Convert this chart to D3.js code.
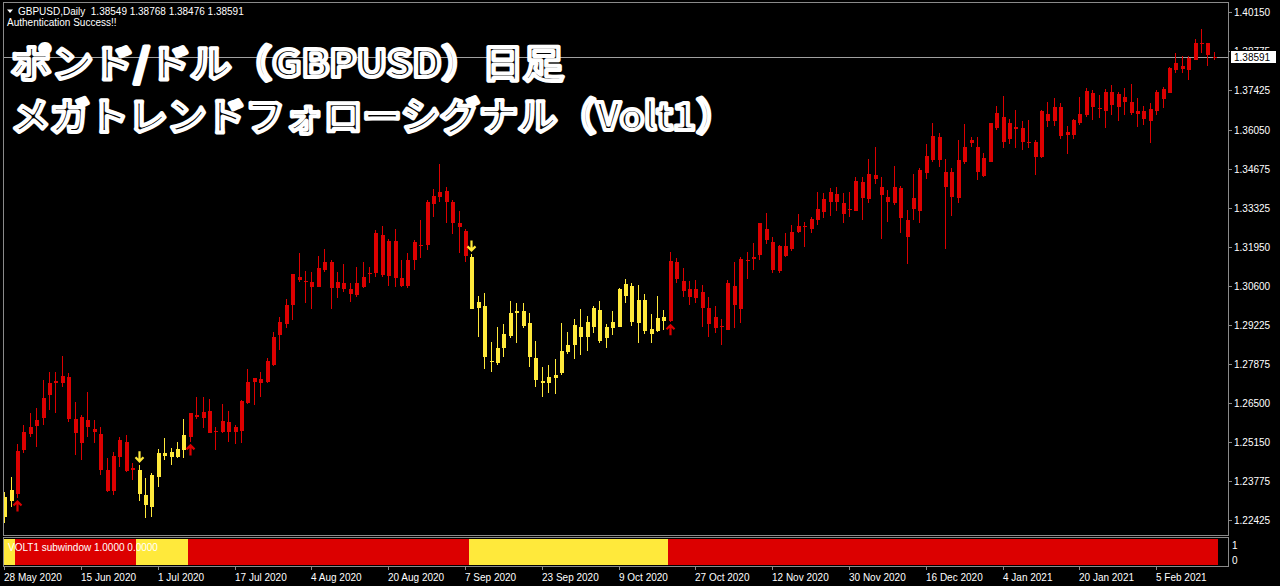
<!DOCTYPE html>
<html><head><meta charset="utf-8">
<script src="https://cdn.jsdelivr.net/npm/d3@7"></script>
<style>html,body{margin:0;padding:0;background:#000;overflow:hidden}svg{display:block}</style>
</head><body>
<svg id="c" width="1280" height="586"></svg>
<script>
// ---- data (GBPUSD daily, 28 May 2020 .. Feb 2021) ----
const open = [1.2253,1.2310,1.2333,1.2487,1.2543,1.2571,1.2600,1.2679,1.2720,1.2720,
1.2743,1.2595,1.2510,1.2592,1.2561,1.2543,1.2417,1.2345,1.2461,1.2516,
1.2417,1.2417,1.2330,1.2289,1.2392,1.2475,1.2461,1.2463,1.2487,1.2531,
1.2609,1.2600,1.2623,1.2550,1.2551,1.2586,1.2551,1.2553,1.2650,1.2725,
1.2734,1.2725,1.2783,1.2888,1.2927,1.2993,1.3092,1.3077,1.3072,1.3057,
1.3115,1.3142,1.3051,1.3069,1.3049,1.3028,1.3057,1.3101,1.3103,1.3237,
1.3094,1.3217,1.3088,1.3059,1.3148,1.3203,1.3202,1.3345,1.3371,1.3392,
1.3351,1.3278,1.3252,1.3161,1.2983,1.2990,1.2799,1.2789,1.2842,1.2885,
1.2964,1.2972,1.2929,1.2807,1.2728,1.2720,1.2739,1.2754,1.2830,1.2853,
1.2917,1.2880,1.2915,1.2975,1.2877,1.2914,1.2917,1.3024,1.3060,1.2931,
1.3010,1.2908,1.2902,1.2938,1.2938,1.3142,1.3077,1.3048,1.3016,1.3039,
1.2983,1.2952,1.2915,1.2906,1.3060,1.2978,1.3150,1.3154,1.3166,1.3258,
1.3214,1.3113,1.3199,1.3187,1.3249,1.3269,1.3257,1.3290,1.3316,1.3353,
1.3379,1.3350,1.3324,1.3322,1.3423,1.3362,1.3448,1.3404,1.3371,1.3350,
1.3400,1.3290,1.3327,1.3322,1.3453,1.3497,1.3578,1.3458,1.3458,1.3365,
1.3490,1.3559,1.3543,1.3443,1.3493,1.3610,1.3650,1.3571,1.3615,1.3610,
1.3563,1.3563,1.3508,1.3659,1.3633,1.3685,1.3586,1.3586,1.3629,1.3656,
1.3734,1.3681,1.3671,1.3737,1.3685,1.3720,1.3702,1.3671,1.3668,1.3636,
1.3668,1.3711,1.3734,1.3813,1.3825,1.3811,1.3848,1.3904,1.3906,1.38549];

const high = [1.2341,1.2394,1.2508,1.2574,1.2616,1.2633,1.2731,1.2760,1.2759,1.2815,
1.2756,1.2655,1.2609,1.2690,1.2592,1.2568,1.2459,1.2481,1.2533,1.2539,
1.2440,1.2435,1.2388,1.2406,1.2489,1.2528,1.2493,1.2516,1.2594,1.2617,
1.2672,1.2671,1.2664,1.2566,1.2647,1.2623,1.2574,1.2661,1.2768,1.2739,
1.2760,1.2807,1.2900,1.2952,1.3013,1.3101,1.3173,1.3113,1.3109,1.3164,
1.3187,1.3150,1.3109,1.3136,1.3069,1.3124,1.3144,1.3124,1.3255,1.3269,
1.3222,1.3257,1.3150,1.3173,1.3220,1.3290,1.3359,1.3397,1.3485,1.3404,
1.3359,1.3322,1.3257,1.3171,1.3024,1.3036,1.2865,1.2917,1.2927,1.3008,
1.2999,1.2999,1.2966,1.2868,1.2778,1.2783,1.2803,1.2929,1.2900,1.2943,
1.2978,1.2954,1.2989,1.3008,1.2927,1.2973,1.3051,1.3083,1.3069,1.3063,
1.3031,1.2961,1.3024,1.2975,1.3179,1.3156,1.3123,1.3078,1.3080,1.3063,
1.3020,1.2989,1.2943,1.3080,1.3141,1.3161,1.3179,1.3210,1.3280,1.3315,
1.3229,1.3202,1.3243,1.3272,1.3310,1.3284,1.3301,1.3387,1.3383,1.3400,
1.3404,1.3385,1.3388,1.3441,1.3441,1.3501,1.3543,1.3441,1.3394,1.3478,
1.3408,1.3324,1.3449,1.3470,1.3555,1.3629,1.3594,1.3501,1.3470,1.3569,
1.3625,1.3580,1.3578,1.3524,1.3629,1.3687,1.3722,1.3641,1.3673,1.3633,
1.3638,1.3569,1.3673,1.3702,1.3714,1.3697,1.3618,1.3640,1.3720,1.3749,
1.3743,1.3726,1.3746,1.3761,1.3737,1.3749,1.3764,1.3714,1.3687,1.3697,
1.3743,1.3755,1.3824,1.3871,1.3862,1.3860,1.3920,1.3955,1.3908,1.38768];

const low = [1.2232,1.2289,1.2319,1.2476,1.2532,1.2497,1.2574,1.2626,1.2616,1.2708,
1.2586,1.2469,1.2452,1.2533,1.2510,1.2400,1.2341,1.2330,1.2429,1.2411,
1.2382,1.2310,1.2248,1.2254,1.2359,1.2452,1.2435,1.2458,1.2458,1.2515,
1.2595,1.2563,1.2545,1.2487,1.2547,1.2516,1.2508,1.2512,1.2648,1.2644,
1.2671,1.2720,1.2781,1.2836,1.2912,1.2941,1.3074,1.2999,1.2978,1.3055,
1.3109,1.2977,1.3016,1.3039,1.3004,1.3022,1.3051,1.3071,1.3090,1.3092,
1.3059,1.3057,1.3055,1.3051,1.3115,1.3156,1.3185,1.3301,1.3353,1.3280,
1.3241,1.3173,1.3144,1.2977,1.2882,1.2768,1.2760,1.2783,1.2812,1.2877,
1.2861,1.2912,1.2775,1.2706,1.2673,1.2687,1.2682,1.2749,1.2822,1.2803,
1.2818,1.2833,1.2896,1.2861,1.2842,1.2888,1.2915,1.2999,1.2920,1.2861,
1.2892,1.2859,1.2900,1.2906,1.2934,1.3069,1.3020,1.2993,1.2999,1.2915,
1.2880,1.2894,1.2853,1.2904,1.2912,1.2929,1.3083,1.3115,1.3148,1.3205,
1.3103,1.3106,1.3159,1.3182,1.3245,1.3196,1.3243,1.3272,1.3295,1.3303,
1.3322,1.3280,1.3301,1.3319,1.3290,1.3350,1.3415,1.3222,1.3284,1.3342,
1.3245,1.3136,1.3290,1.3278,1.3432,1.3490,1.3473,1.3187,1.3303,1.3350,
1.3485,1.3545,1.3429,1.3439,1.3490,1.3604,1.3540,1.3555,1.3540,1.3534,
1.3540,1.3447,1.3505,1.3613,1.3618,1.3571,1.3520,1.3571,1.3621,1.3650,
1.3638,1.3645,1.3610,1.3656,1.3633,1.3656,1.3656,1.3613,1.3621,1.3559,
1.3656,1.3679,1.3732,1.3801,1.3801,1.3776,1.3846,1.3871,1.3827,1.38476];

const close = [1.2323,1.2347,1.2484,1.2550,1.2568,1.2592,1.2668,1.2722,1.2729,1.2745,
1.2595,1.2545,1.2603,1.2566,1.2551,1.2417,1.2345,1.2466,1.2522,1.2415,
1.2423,1.2333,1.2295,1.2400,1.2475,1.2466,1.2480,1.2489,1.2539,1.2615,
1.2601,1.2621,1.2547,1.2553,1.2589,1.2551,1.2568,1.2659,1.2723,1.2738,
1.2720,1.2796,1.2880,1.2932,1.2993,1.3100,1.3080,1.3072,1.3057,1.3121,
1.3144,1.3053,1.3072,1.3048,1.3031,1.3069,1.3092,1.3106,1.3245,1.3098,
1.3217,1.3088,1.3059,1.3150,1.3214,1.3199,1.3353,1.3373,1.3388,1.3351,
1.3278,1.3266,1.3164,1.2978,1.3002,1.2812,1.2794,1.2842,1.2891,1.2966,
1.2971,1.2920,1.2812,1.2731,1.2722,1.2743,1.2749,1.2832,1.2853,1.2923,
1.2882,1.2935,1.2981,1.2868,1.2917,1.2932,1.3049,1.3066,1.2935,1.3010,
1.2903,1.2892,1.2949,1.2952,1.3146,1.3083,1.3043,1.3022,1.3049,1.2981,
1.2927,1.2912,1.2920,1.3069,1.2993,1.3152,1.3146,1.3159,1.3278,1.3220,
1.3115,1.3200,1.3164,1.3249,1.3269,1.3264,1.3292,1.3327,1.3362,1.3388,
1.3351,1.3310,1.3329,1.3427,1.3365,1.3450,1.3434,1.3377,1.3353,1.3404,
1.3295,1.3229,1.3365,1.3464,1.3513,1.3583,1.3499,1.3404,1.3369,1.3499,
1.3545,1.3569,1.3455,1.3505,1.3627,1.3662,1.3563,1.3627,1.3606,1.3563,
1.3558,1.3510,1.3668,1.3636,1.3685,1.3583,1.3596,1.3638,1.3659,1.3740,
1.3685,1.3676,1.3737,1.3691,1.3729,1.3700,1.3664,1.3658,1.3641,1.3676,
1.3737,1.3746,1.3821,1.3836,1.3815,1.3856,1.3908,1.3906,1.3865,1.38591];

// Volt1 trend state per bar: 1 = up trend (red), 0 = down trend (yellow)
const trend = [0,0,1,1,1,1,1,1,1,1, 1,1,1,1,1,1,1,1,1,1, 1,0,0,0,0,0,0,0,0,1,
1,1,1,1,1,1,1,1,1,1, 1,1,1,1,1,1,1,1,1,1, 1,1,1,1,1,1,1,1,1,1, 1,1,1,1,1,1,1,1,1,1,
1,1,1,0,0,0,0,0,0,0, 0,0,0,0,0,0,0,0,0,0, 0,0,0,0,0,0,0,0,0,0, 0,0,0,0,1,1,1,1,1,1,
1,1,1,1,1,1,1,1,1,1, 1,1,1,1,1,1,1,1,1,1, 1,1,1,1,1,1,1,1,1,1, 1,1,1,1,1,1,1,1,1,1,
1,1,1,1,1,1,1,1,1,1, 1,1,1,1,1,1,1,1,1,1, 1,1,1,1,1,1,1,1,1,1, 1,1,1,1,1,1,1,1,1,1];

const buySignals = [2, 29, 104];   // red up arrows
const sellSignals = [21, 73];      // yellow down arrows

const priceTicks = [1.40150,1.38775,1.37425,1.36050,1.34675,1.33325,1.31950,1.30600,1.29225,1.27875,1.26500,1.25150,1.23775,1.22425];
const dateTickBars = [0,12,24,36,48,60,72,84,96,108,120,132,144,156,168,180];
const dateTickLabels = ["28 May 2020","15 Jun 2020","1 Jul 2020","17 Jul 2020","4 Aug 2020","20 Aug 2020","7 Sep 2020","23 Sep 2020","9 Oct 2020","27 Oct 2020","12 Nov 2020","30 Nov 2020","16 Dec 2020","4 Jan 2021","20 Jan 2021","5 Feb 2021"];
const subTicks = [1, 0];

const symbolText = "GBPUSD,Daily";
const statusText = "Authentication Success!!";
const subLabel = "VOLT1 subwindow 1.0000 0.0000";
const titleLines = ["ポンド/ドル（GBPUSD）日足", "メガトレンドフォローシグナル（Volt1）"];

// ---- drawing ----
const RED = "#dc0000", YEL = "#ffe93b", FRAME = "#8a8a8a", TXT = "#ffffff";
const FONT = "'Liberation Sans', Arial, sans-serif";
const N = open.length;
const svg = d3.select("#c");
svg.append("rect").attr("width",1280).attr("height",586).attr("fill","#000");

const P = {l:3, r:1228, t:2, b:535};
const S = {t:537, b:566};

const x = d3.scaleBand().domain(d3.range(N)).range([2, 1218]);
const cx = i => Math.round(x(i) + x.bandwidth()/2);
const y = d3.scaleLinear().domain([priceTicks[priceTicks.length-1], priceTicks[0]]).range([520, 12]);
const ys = d3.scaleLinear().domain([0, 1]).range([S.b - 1, S.t + 1.5]);
const col = i => trend[i] ? RED : YEL;

const defs = svg.append("defs");
defs.append("clipPath").attr("id","mainclip").append("rect")
  .attr("x",P.l+1).attr("y",P.t+1).attr("width",P.r-P.l-1).attr("height",P.b-P.t-1);
defs.append("clipPath").attr("id","subclip").append("rect")
  .attr("x",P.l+1).attr("y",S.t+1).attr("width",P.r-P.l-1).attr("height",S.b-S.t-1);

// current price line
const lastClose = close[N-1];
svg.append("line").attr("x1",P.l).attr("x2",P.r)
  .attr("y1",Math.round(y(lastClose))+0.5).attr("y2",Math.round(y(lastClose))+0.5)
  .attr("stroke","#a0a0a0").attr("stroke-width",1).attr("shape-rendering","crispEdges");

// candles
const g = svg.append("g").attr("clip-path","url(#mainclip)");
const idx = d3.range(N);
g.selectAll("line.wick").data(idx).join("line").attr("class","wick")
  .attr("x1",i=>cx(i)-0.5).attr("x2",i=>cx(i)-0.5)
  .attr("y1",i=>y(high[i])).attr("y2",i=>y(low[i]))
  .attr("stroke",col).attr("stroke-width",1).attr("shape-rendering","crispEdges");
g.selectAll("rect.body").data(idx).join("rect").attr("class","body")
  .attr("x",i=>cx(i)-2).attr("width",4)
  .attr("y",i=>y(Math.max(open[i],close[i])))
  .attr("height",i=>Math.max(1, Math.abs(y(open[i])-y(close[i]))))
  .attr("fill",col).attr("shape-rendering","crispEdges");

// signal arrows
g.selectAll("path.buy").data(buySignals).join("path").attr("class","buy")
  .attr("d",i=>{const c=cx(i)-0.5, t=y(low[i])+2.5; return `M${c-4},${t+5}L${c},${t+1}L${c+4},${t+5}M${c},${t+1}V${t+11}`;})
  .attr("fill","none").attr("stroke",RED).attr("stroke-width",2.2);
g.selectAll("path.sell").data(sellSignals).join("path").attr("class","sell")
  .attr("d",i=>{const c=cx(i)-0.5, b=y(high[i])-2.5; return `M${c-4},${b-5}L${c},${b-1}L${c+4},${b-5}M${c},${b-1}V${b-11}`;})
  .attr("fill","none").attr("stroke",YEL).attr("stroke-width",2.2);

// sub window histogram
const sg = svg.append("g").attr("clip-path","url(#subclip)");
sg.selectAll("rect").data(idx).join("rect")
  .attr("x",i=>x(i)).attr("width",x.bandwidth()+0.3)
  .attr("y",ys(1)).attr("height",ys(0)-ys(1))
  .attr("fill",col).attr("shape-rendering","crispEdges");
svg.append("text").attr("x",8).attr("y",551).attr("fill",TXT)
  .attr("font-family",FONT).attr("font-size",10).text(subLabel);

// frames
const fr = svg.append("g").attr("fill","none").attr("stroke",FRAME).attr("shape-rendering","crispEdges");
fr.append("rect").attr("x",P.l+0.5).attr("y",P.t+0.5).attr("width",P.r-P.l).attr("height",P.b-P.t);
fr.append("rect").attr("x",P.l+0.5).attr("y",S.t+0.5).attr("width",P.r-P.l).attr("height",S.b-S.t);

// price axis
const ax = svg.append("g");
ax.selectAll("line").data(priceTicks).join("line")
  .attr("x1",P.r).attr("x2",P.r+4).attr("y1",d=>Math.round(y(d))+0.5).attr("y2",d=>Math.round(y(d))+0.5)
  .attr("stroke",FRAME).attr("shape-rendering","crispEdges");
ax.selectAll("text").data(priceTicks).join("text")
  .attr("x",P.r+6).attr("y",d=>y(d)+4).attr("fill",TXT)
  .attr("font-family",FONT).attr("font-size",10).text(d=>d.toFixed(5));
// last price box
svg.append("rect").attr("x",P.r+2).attr("y",Math.round(y(lastClose))-6.5).attr("width",46).attr("height",13)
  .attr("fill","#fff").attr("stroke","#000").attr("shape-rendering","crispEdges");
svg.append("text").attr("x",P.r+6).attr("y",y(lastClose)+4).attr("fill","#000")
  .attr("font-family",FONT).attr("font-size",10).text(lastClose.toFixed(5));

// sub axis
svg.selectAll("text.sub").data(subTicks).join("text").attr("class","sub")
  .attr("x",P.r+4).attr("y",d=>d===1?549:564).attr("fill",TXT)
  .attr("font-family",FONT).attr("font-size",10).text(d=>d);

// date axis
svg.selectAll("line.dt").data(dateTickBars).join("line").attr("class","dt")
  .attr("x1",i=>cx(i)-0.5).attr("x2",i=>cx(i)-0.5).attr("y1",S.b).attr("y2",S.b+4)
  .attr("stroke",FRAME).attr("shape-rendering","crispEdges");
svg.selectAll("text.dt").data(dateTickBars).join("text").attr("class","dt")
  .attr("x",i=>cx(i)-1).attr("y",581).attr("fill",TXT)
  .attr("font-family",FONT).attr("font-size",10).text((d,k)=>dateTickLabels[k]);

// header
svg.append("path").attr("d","M7,9.5L13,9.5L10,13Z").attr("fill",TXT);
svg.append("text").attr("x",18).attr("y",15).attr("fill",TXT).attr("font-family",FONT).attr("font-size",10)
  .style("white-space","pre")
  .text(`${symbolText}  ${open[N-1].toFixed(5)} ${high[N-1].toFixed(5)} ${low[N-1].toFixed(5)} ${close[N-1].toFixed(5)}`);
svg.append("text").attr("x",7).attr("y",26).attr("fill",TXT).attr("font-family",FONT).attr("font-size",10).text(statusText);

// title overlay
const titleFont = "'Noto Sans CJK JP', sans-serif";
const tl = [{t:titleLines[0], y:77, w:553},{t:titleLines[1], y:130, w:724}];
svg.selectAll("text.title").data(tl).join("text").attr("class","title")
  .attr("x",11).attr("y",d=>d.y).attr("textLength",d=>d.w).attr("lengthAdjust","spacingAndGlyphs")
  .attr("font-family",titleFont).attr("font-weight",700).attr("font-size",38)
  .attr("fill","#000").attr("stroke","#fff").attr("stroke-width",4).attr("stroke-linejoin","round")
  .text(d=>d.t);
</script>
</body></html>
